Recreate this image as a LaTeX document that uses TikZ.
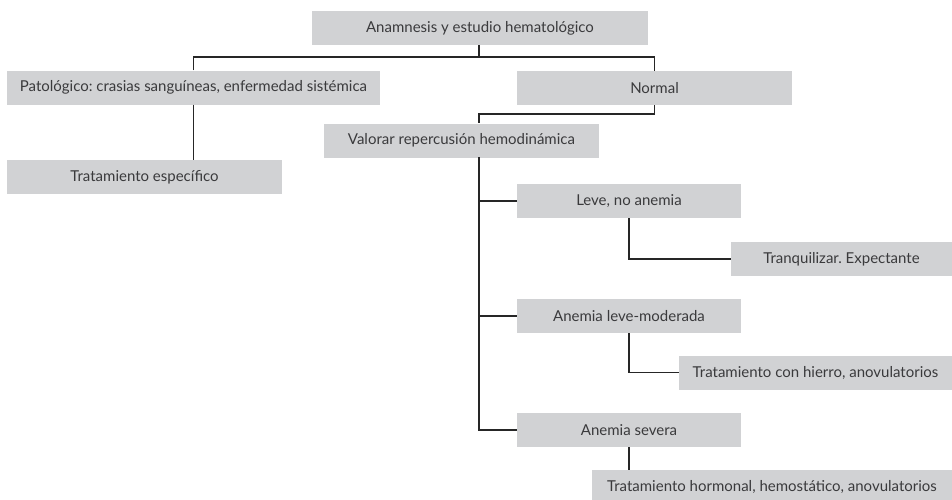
\documentclass[tikz,border=0pt]{standalone}
\usepackage{fontspec}
\setmainfont{Lato}
\usepackage{tikz}
\usetikzlibrary{positioning}
\definecolor{boxgray}{HTML}{D1D2D4}
\definecolor{textgray}{HTML}{3A3A3C}
\frenchspacing
\begin{document}
\begin{tikzpicture}[x=1pt,y=-1pt]
            \tikzset{box/.style={fill=boxgray, text=textgray, inner sep=0pt, minimum height=34pt,
                font=\fontsize{15}{17}\selectfont}};
            \tikzset{line/.style={line width=1.1pt, draw=black!85}};
            \useasboundingbox (0,0) rectangle (952,499);

            \node[box, minimum width=336pt] (top) at (480,28) {Anamnesis y estudio hematológico};
            \node[box, minimum width=373pt] (pat) at (193.5,87.5) {Patológico: crasias sanguíneas, enfermedad sistémica};
            \node[box, minimum width=275pt] (normal) at (654.5,88) {Normal};
            \node[box, minimum width=275pt] (trat) at (144.5,177) {Tratamiento específico};
            \node[box, minimum width=275pt] (valorar) at (461.5,140.5) {Valorar repercusión hemodinámica};

            \node[box, minimum width=224pt] (leve) at (629,201) {Leve, no anemia};
            \node[box, minimum width=221pt] (tranq) at (841.5,259) {Tranquilizar. Expectante};
            \node[box, minimum width=224pt] (anmod) at (629,316) {Anemia leve-moderada};
            \node[box, minimum width=273pt] (hierro) at (815.5,372.5) {Tratamiento con hierro, anovulatorios};
            \node[box, minimum width=224pt] (ansev) at (629,430) {Anemia severa};
            \node[box, minimum width=360pt] (horm) at (772,487) {Tratamiento hormonal, hemostático, anovulatorios};

            \coordinate (split) at (479,57);
            \coordinate (join) at (479,114);
            \coordinate (spine) at (479,157);

            \draw[line] (top.south -| split) -- (split);
            \draw[line] (pat.north) |- (split) -| (normal.north);
            \draw[line] (pat.south) -- (pat.south |- trat.north);

            \draw[line] (normal.south) |- (join) -- (join |- valorar.north);

            \draw[line] (spine) |- (ansev.west);
            \draw[line] (spine |- leve.west) -- (leve.west);
            \draw[line] (spine |- anmod.west) -- (anmod.west);

            \draw[line] (leve.south) |- (tranq.west);
            \draw[line] (anmod.south) |- (hierro.west);
            \draw[line] (ansev.south) -- (ansev.south |- horm.north);
        \end{tikzpicture}
\end{document}
